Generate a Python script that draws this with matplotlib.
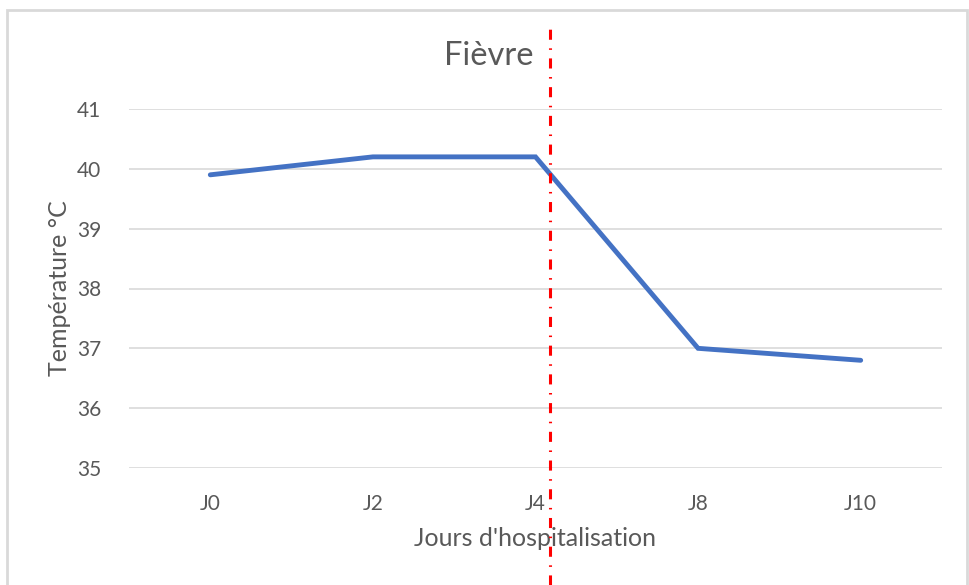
import matplotlib
matplotlib.use("Agg")
import matplotlib.pyplot as plt
import matplotlib.transforms as mtransforms
from matplotlib.patches import Rectangle

categories = ["J0", "J2", "J4", "J8", "J10"]
temperatures = [39.9, 40.2, 40.2, 37.0, 36.8]
yticks = [35, 36, 37, 38, 39, 40, 41]
marker_position = 2.09  # category index of the red dash-dot line

plt.rcParams['font.family'] = ['Lato', 'DejaVu Sans']
gray = "#595959"

fig = plt.figure(figsize=(9.7, 5.85), dpi=100)
ax = fig.add_axes([129/970, 1-468/585, (942-129)/970, (468-109)/585])

x = list(range(len(categories)))
ax.plot(x, temperatures, color="#4472C4", linewidth=3.5, solid_capstyle="round", solid_joinstyle="miter", zorder=3)

ax.set_xlim(-0.5, len(categories) - 0.5)
ax.set_ylim(35, 41)
ax.set_yticks(yticks)
ax.set_xticks(x)
ax.set_xticklabels(categories)
ax.grid(axis="y", color="#d9d9d9", linewidth=1.2)
ax.set_axisbelow(True)
for s in ax.spines.values():
    s.set_visible(False)
ax.tick_params(length=0, colors=gray, labelsize=15)
ax.tick_params(axis="y", pad=20)
ax.tick_params(axis="x", pad=19)

ax.set_ylabel("Température °C", color=gray, fontsize=18, labelpad=4)
ax.set_xlabel("Jours d'hospitalisation", color=gray, fontsize=18, labelpad=9)
fig.text(489/970, 1-56/585, "Fièvre", ha="center", va="center", color=gray, fontsize=23.5)

# red dash-dot line across the figure
trans = mtransforms.blended_transform_factory(ax.transData, fig.transFigure)
ax.plot([marker_position, marker_position], [0, 1-23/585], transform=trans, color="red",
        linewidth=2.2, linestyle=(0, (3.3, 2.8, 0.5, 2.8)), clip_on=False, zorder=4)

# chart border
fig.patches.append(Rectangle((7/970, -0.01), (967-7)/970, 1.01-10/585, transform=fig.transFigure,
                             fill=False, edgecolor="#d9d9d9", linewidth=2, zorder=0))

fig.savefig("out.png", dpi=100)
